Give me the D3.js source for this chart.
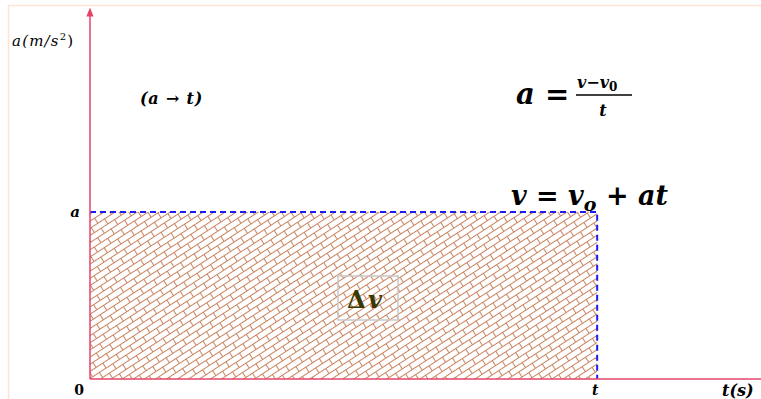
<!DOCTYPE html>
<html>
<head>
<meta charset="utf-8">
<script src="https://cdn.jsdelivr.net/npm/d3@7"></script>
<style>
  body { margin: 0; background: #fff; }
  svg { display: block; }
</style>
</head>
<body>
<svg width="761" height="399" font-family="DejaVu Serif, DejaVu Sans"></svg>
<script>
// **** chart values ****
var tMax = 1.323;            // end of the time axis (in units of t)
var aMax = 2.22;             // end of the acceleration axis (in units of a)
var rectT = [0, 1];          // shaded interval on t
var rectA = [0, 1];          // constant acceleration
var xTicks = [{ v: 0, label: "0" }, { v: 1, label: "t" }];
var yTicks = [{ v: 1, label: "a" }];

// **** scales ****
var xScale = d3.scaleLinear().domain([0, tMax]).range([90, 761]);
var yScale = d3.scaleLinear().domain([0, aMax]).range([379, 8]);

var svg = d3.select('svg');

// faint frame
svg.append('path')
    .attr('d', 'M8.5,399 L8.5,5.5 L761,5.5')
    .attr('fill', 'none')
    .attr('stroke', '#fde3d3')
    .attr('stroke-width', 1.5);

// brick hatch pattern
var defs = svg.append('defs');
var pat = defs.append('pattern')
    .attr('id', 'bricks')
    .attr('patternUnits', 'userSpaceOnUse')
    .attr('width', 16).attr('height', 12)
    .attr('patternTransform', 'rotate(-33)');
pat.append('path')
    .attr('d', 'M0,0.5 H16 M0,6.5 H16 M0.5,0.5 V6.5 M8.5,6.5 V12.5')
    .attr('fill', 'none')
    .attr('stroke', '#c9835f')
    .attr('stroke-width', 1);

defs.append('marker')
    .attr('id', 'arrow')
    .attr('viewBox', '0 0 10 10')
    .attr('refX', 5).attr('refY', 5)
    .attr('markerWidth', 6).attr('markerHeight', 6)
    .attr('orient', 'auto')
    .append('path')
    .attr('d', 'M0,1 L10,5 L0,9 z')
    .attr('fill', '#e3456a');

// shaded area
svg.append('rect')
    .attr('x', xScale(rectT[0]))
    .attr('y', yScale(rectA[1]))
    .attr('width', xScale(rectT[1]) - xScale(rectT[0]))
    .attr('height', yScale(rectA[0]) - yScale(rectA[1]))
    .attr('fill', 'url(#bricks)');

// dashed blue guide lines
svg.append('path')
    .attr('d', 'M' + xScale(0) + ',' + yScale(rectA[1]) +
        ' H' + xScale(rectT[1]) + ' V' + yScale(0))
    .attr('fill', 'none')
    .attr('stroke', '#1c1cf0')
    .attr('stroke-width', 2)
    .attr('stroke-dasharray', '6,4');

// axes
svg.append('line')
    .attr('x1', xScale(0)).attr('y1', yScale(0))
    .attr('x2', xScale(tMax)).attr('y2', yScale(0))
    .attr('stroke', '#e3456a').attr('stroke-width', 1.5);

svg.append('line')
    .attr('x1', xScale(0)).attr('y1', yScale(0))
    .attr('x2', xScale(0)).attr('y2', yScale(aMax) + 4)
    .attr('stroke', '#e3456a').attr('stroke-width', 1.5)
    .attr('marker-end', 'url(#arrow)');

// tick labels
svg.selectAll('.xtick').data(xTicks).enter().append('text')
    .attr('class', 'xtick')
    .attr('x', function (d) { return xScale(d.v) - (d.v === 0 ? 11 : 2); })
    .attr('y', 395)
    .attr('text-anchor', 'middle')
    .attr('font-size', 14)
    .attr('font-weight', 'bold')
    .attr('font-style', function (d) { return d.v === 0 ? 'normal' : 'italic'; })
    .text(function (d) { return d.label; });

svg.selectAll('.ytick').data(yTicks).enter().append('text')
    .attr('class', 'ytick')
    .attr('x', 75)
    .attr('y', function (d) { return yScale(d.v) + 5; })
    .attr('text-anchor', 'middle')
    .attr('font-size', 15)
    .attr('font-weight', 'bold')
    .attr('font-style', 'italic')
    .text(function (d) { return d.label; });

// axis titles
var yTitle = svg.append('text')
    .attr('x', 12).attr('y', 46)
    .attr('font-size', 15)
    .attr('font-style', 'italic')
    .attr('letter-spacing', 1.2);
yTitle.append('tspan').text('a(m/s');
yTitle.append('tspan').attr('dy', -6).attr('font-size', 10).attr('font-style', 'normal').text('2');
yTitle.append('tspan').attr('dy', 6).attr('font-style', 'normal').text(')');

svg.append('text')
    .attr('x', 722).attr('y', 396)
    .attr('font-size', 16)
    .attr('font-style', 'italic')
    .attr('font-weight', 'bold')
    .text('t(s)');

// notes
svg.append('text')
    .attr('x', 140).attr('y', 104)
    .attr('font-size', 16)
    .attr('font-weight', 'bold')
    .attr('font-style', 'italic')
    .attr('letter-spacing', 0.8)
    .text('(a \u2192 t)');

svg.append('text')
    .attr('x', 516).attr('y', 104)
    .attr('font-size', 29)
    .attr('font-weight', 'bold')
    .attr('font-style', 'italic')
    .text('a =');

var frac = svg.append('g').attr('font-weight', 'bold').attr('font-style', 'italic');
var num = frac.append('text').attr('x', 577).attr('y', 88).attr('font-size', 16);
num.append('tspan').text('v\u2212v');
num.append('tspan').attr('dy', 3).attr('font-size', 12).attr('font-style', 'normal').text('0');
frac.append('line')
    .attr('x1', 576).attr('x2', 632).attr('y1', 95).attr('y2', 95)
    .attr('stroke', '#000').attr('stroke-width', 1.5);
frac.append('text').attr('x', 603).attr('y', 116).attr('font-size', 16)
    .attr('text-anchor', 'middle').text('t');

var eq2 = svg.append('text')
    .attr('x', 511).attr('y', 205)
    .attr('font-size', 27)
    .attr('font-weight', 'bold')
    .attr('font-style', 'italic');
eq2.append('tspan').text('v = v');
eq2.append('tspan').attr('dy', 6).attr('font-size', 19).text('o');
eq2.append('tspan').attr('dy', -6).text(' + at');

// delta-v box
svg.append('rect')
    .attr('x', 338).attr('y', 276).attr('width', 60).attr('height', 44)
    .attr('fill', 'none')
    .attr('stroke', '#c8c8c8')
    .attr('stroke-width', 1.5);
svg.append('text')
    .attr('x', 347).attr('y', 308)
    .attr('font-size', 24)
    .attr('font-weight', 'bold')
    .attr('fill', '#3a3800')
    .text('\u0394');
svg.append('text')
    .attr('x', 368).attr('y', 308)
    .attr('font-size', 24)
    .attr('font-weight', 'bold')
    .attr('font-style', 'italic')
    .attr('fill', '#3a3800')
    .text('v');
</script>
</body>
</html>
